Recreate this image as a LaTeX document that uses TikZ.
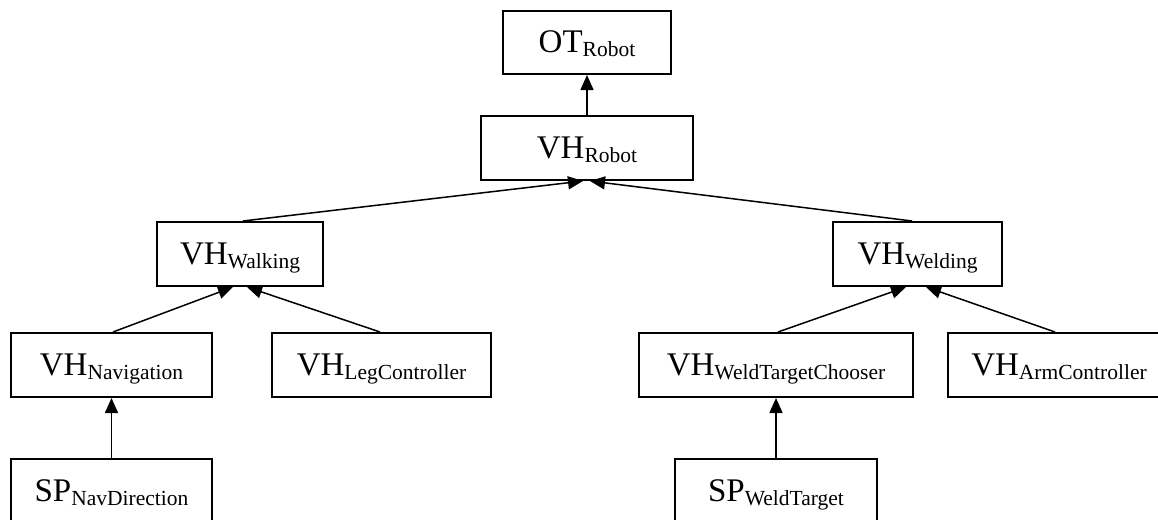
\documentclass[tikz,border=0pt]{standalone}
\usepackage{fontspec}
\setmainfont{Liberation Serif}
\usetikzlibrary{arrows.meta}

% Big prefix with a smaller, slightly lowered subscript-style suffix
\newcommand\boxlabel[2]{{\fontsize{33}{36}\selectfont #1}\raisebox{-4pt}{\fontsize{21.5}{24}\selectfont #2}}

\tikzset{
  hbox/.style={draw, line width=2pt, rectangle, minimum height=64pt,
    inner sep=0pt, text height=25pt, text depth=5pt, align=center},
  inherit/.style={line width=1.5pt, -{Triangle[length=15pt,width=13pt]}},
}

\begin{document}
\begin{tikzpicture}[x=1pt, y=-1pt]
  \useasboundingbox (0,0) rectangle (1158,519);
  \clip (0,0) rectangle (1158,519);

  % class hierarchy
  \node[hbox, minimum width=168pt, minimum height=63pt] (ot)   at (587,42.5) {\boxlabel{OT}{Robot}};
  \node[hbox, minimum width=212pt] (robot)   at (587,148)   {\boxlabel{VH}{Robot}};
  \node[hbox, minimum width=166pt] (walking) at (240,254)   {\boxlabel{VH}{Walking}};
  \node[hbox, minimum width=169pt] (welding) at (917.5,254) {\boxlabel{VH}{Welding}};
  \node[hbox, minimum width=201pt] (nav)     at (111.5,365) {\boxlabel{VH}{Navigation}};
  \node[hbox, minimum width=219pt] (leg)     at (381.5,365) {\boxlabel{VH}{LegController}};
  \node[hbox, minimum width=274pt] (wtc)     at (776,365)   {\boxlabel{VH}{WeldTargetChooser}};
  \node[hbox, minimum width=222pt] (arm)     at (1059,365)  {\boxlabel{VH}{ArmController}};
  \node[hbox, minimum width=201pt] (spnav)   at (111.5,491) {\boxlabel{SP}{NavDirection}};
  \node[hbox, minimum width=202pt] (spweld)  at (776,491)   {\boxlabel{SP}{WeldTarget}};

  % inheritance arrows, child -> parent
  \draw[inherit] (robot.north) -- (ot.south);
  \draw[inherit] ([xshift=3pt]walking.north) -- ([xshift=-4pt]robot.south);
  \draw[inherit] ([xshift=-5.5pt]welding.north) -- ([xshift=3pt]robot.south);
  \draw[inherit] ([xshift=1.5pt]nav.north) -- ([xshift=-7pt]walking.south);
  \draw[inherit] ([xshift=-1.5pt]leg.north) -- ([xshift=7pt]walking.south);
  \draw[inherit] ([xshift=2pt]wtc.north) -- ([xshift=-11.5pt]welding.south);
  \draw[inherit] ([xshift=-4pt]arm.north) -- ([xshift=8.5pt]welding.south);
  \draw[inherit] (spnav.north) -- (nav.south);
  \draw[inherit] (spweld.north) -- (wtc.south);
\end{tikzpicture}
\end{document}
